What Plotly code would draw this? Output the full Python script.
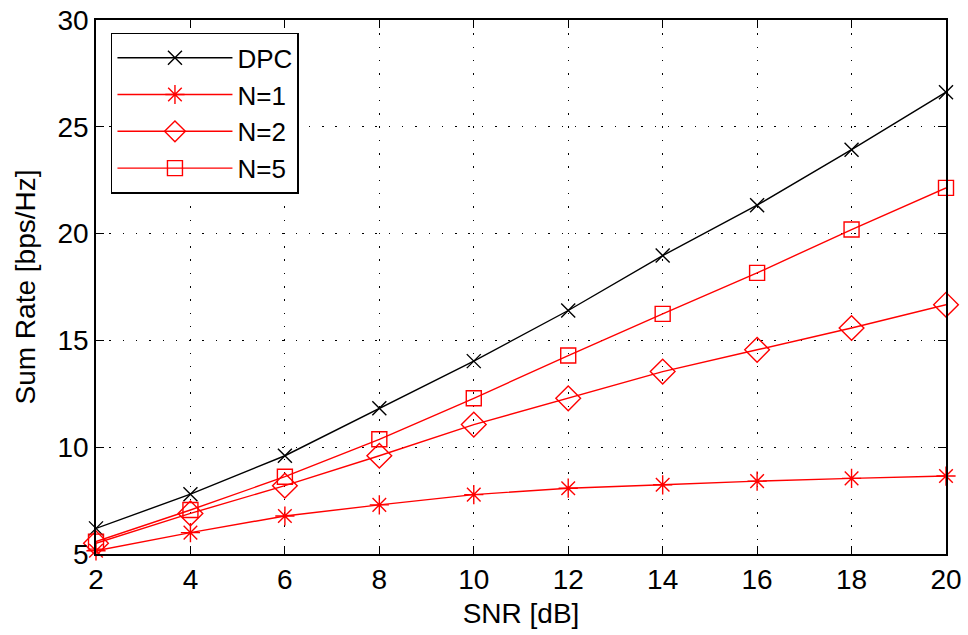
import plotly.graph_objects as go

# SNR points (dB)
snr = [2, 4, 6, 8, 10, 12, 14, 16, 18, 20]

# sum rates (bps/Hz)
dpc = [6.2, 7.8, 9.6, 11.82, 14.03, 16.4, 18.97, 21.33, 23.93, 26.62]
n1 = [5.15, 6.0, 6.78, 7.3, 7.78, 8.08, 8.24, 8.41, 8.54, 8.65]
n2 = [5.5, 6.9, 8.2, 9.6, 11.06, 12.29, 13.54, 14.56, 15.58, 16.67]
n5 = [5.58, 7.06, 8.62, 10.37, 12.29, 14.29, 16.24, 18.16, 20.19, 22.14]

names = ["DPC", "N=1", "N=2", "N=5"]
colors = ["black", "red", "red", "red"]
symbols = ["x-thin-open", "asterisk-open", "diamond-open", "square-open"]
sizes = [14, 16, 19, 15]

fig = go.Figure()

for name, ys, col, sym, sz in zip(names, [dpc, n1, n2, n5], colors, symbols, sizes):
    fig.add_trace(go.Scatter(
        x=snr, y=ys, name=name,
        mode="lines+markers",
        line=dict(color=col, width=1.4),
        marker=dict(symbol=sym, size=sz, color=col,
                    line=dict(color=col, width=1.4)),
        cliponaxis=False,
    ))

axis_style = dict(
    showline=True, linecolor="black", linewidth=1.5, mirror="ticks",
    ticks="inside", ticklen=8, tickcolor="black", tickwidth=1.2,
    showgrid=True, gridcolor="black", griddash="1.5px,11.8px", gridwidth=1.2,
    zeroline=False, automargin=False, ticklabeloverflow="allow",
    tickfont=dict(size=28, color="black"),
)

fig.update_xaxes(range=[2, 20], tickvals=snr,
                 title=dict(text="SNR [dB]", font=dict(size=28, color="black"), standoff=9),
                 **axis_style)
fig.update_yaxes(range=[5, 30], tickvals=[5, 10, 15, 20, 25, 30],
                 title=dict(text="Sum Rate [bps/Hz]", font=dict(size=28, color="black"), standoff=14),
                 **axis_style)

fig.update_layout(
    width=968, height=635,
    margin=dict(l=96, r=22, t=20, b=81),
    paper_bgcolor="white", plot_bgcolor="white",
    font=dict(family="Liberation Sans, Arial, sans-serif", size=28, color="black"),
    legend=dict(
        x=0.0176, y=0.976, xanchor="left", yanchor="top",
        bgcolor="white", bordercolor="black", borderwidth=1.5,
        font=dict(size=26), itemwidth=115, tracegroupgap=0,
    ),
)

# drop the default 8px body margin so the figure fills the window
fig.write_html("out.html", config={"displayModeBar": False},
               post_script="document.body.style.margin='0px';")
